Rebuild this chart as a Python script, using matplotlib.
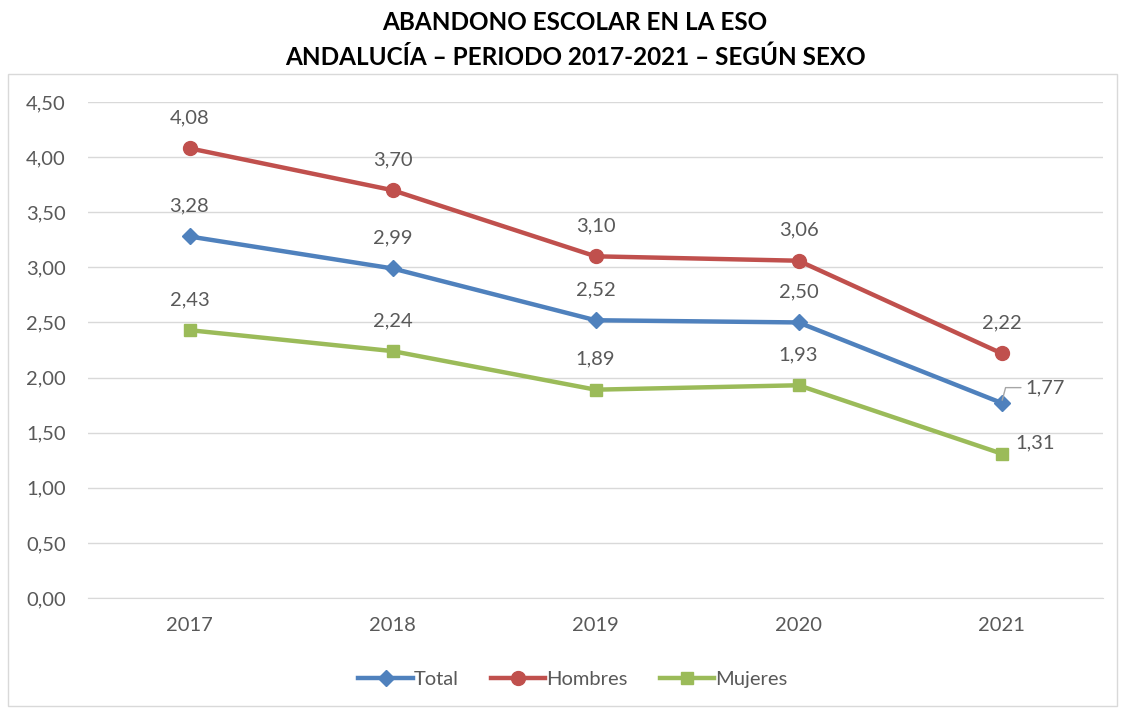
import matplotlib.pyplot as plt
import matplotlib.patches as patches

plt.rcParams['font.family'] = ['Lato', 'DejaVu Sans']

anios = ['2017', '2018', '2019', '2020', '2021']
total = [3.28, 2.99, 2.52, 2.50, 1.77]
hombres = [4.08, 3.70, 3.10, 3.06, 2.22]
mujeres = [2.43, 2.24, 1.89, 1.93, 1.31]
yticks = [0, 0.5, 1.0, 1.5, 2.0, 2.5, 3.0, 3.5, 4.0, 4.5]

gris = '#595959'
c_total = '#4F81BD'
c_hombres = '#C0504D'
c_mujeres = '#9BBB59'
fs = 14.5


def coma(v):
    return f'{v:.2f}'.replace('.', ',')


fig = plt.figure(figsize=(11.22, 7.09), dpi=100)
ax = fig.add_axes([88 / 1122, 1 - 598 / 709, (1103 - 88) / 1122, (598 - 102) / 709])

# marco del grafico
fig.patches.append(patches.Rectangle((8 / 1122, 1 - 706 / 709), 1109 / 1122, 632 / 709,
                                     transform=fig.transFigure, fill=False,
                                     edgecolor='#D9D9D9', lw=1))

x = list(range(len(anios)))
ax.plot(x, total, color=c_total, lw=3.2, marker='D', ms=8, label='Total', zorder=3)
ax.plot(x, hombres, color=c_hombres, lw=3.2, marker='o', ms=10, label='Hombres', zorder=3)
ax.plot(x, mujeres, color=c_mujeres, lw=3.2, marker='s', ms=9, label='Mujeres', zorder=3)

# etiquetas de datos
for serie in (total, hombres, mujeres):
    for i, v in enumerate(serie[:-1]):
        ax.annotate(coma(v), (i, v), xytext=(0, 22), textcoords='offset points',
                    ha='center', va='center', fontsize=fs, color=gris)
ax.annotate(coma(hombres[-1]), (4, hombres[-1]), xytext=(0, 22), textcoords='offset points',
            ha='center', va='center', fontsize=fs, color=gris)
ax.annotate(coma(total[-1]), (4, total[-1]), xytext=(17, 11), textcoords='offset points',
            ha='left', va='center', fontsize=fs, color=gris,
            arrowprops=dict(arrowstyle='-', color='#A6A6A6', lw=1,
                            connectionstyle='angle,angleA=0,angleB=75,rad=0',
                            shrinkA=1, shrinkB=2))
ax.annotate(coma(mujeres[-1]), (4, mujeres[-1]), xytext=(10, 8), textcoords='offset points',
            ha='left', va='center', fontsize=fs, color=gris)

ax.set_xlim(-0.5, 4.5)
ax.set_ylim(0, 4.5)
ax.set_xticks(x)
ax.set_xticklabels(anios)
ax.set_yticks(yticks)
ax.set_yticklabels([coma(v) for v in yticks])
ax.tick_params(colors=gris, labelsize=fs, length=0, pad=16)
ax.tick_params(axis='x', pad=14)
ax.grid(axis='y', color='#D9D9D9', lw=1)
ax.set_axisbelow(True)
for s in ['top', 'right', 'left']:
    ax.spines[s].set_visible(False)
ax.spines['bottom'].set_color('#D9D9D9')

fig.text(575 / 1122, 1 - 22 / 709, 'ABANDONO ESCOLAR EN LA ESO', ha='center', va='center',
         fontsize=17.5, fontweight='bold', color='black')
fig.text(575 / 1122, 1 - 57 / 709, 'ANDALUCÍA – PERIODO 2017-2021 – SEGÚN SEXO', ha='center',
         va='center', fontsize=17.5, fontweight='bold', color='black')

leg = fig.legend(loc='center', bbox_to_anchor=(573 / 1122, 1 - 679 / 709), ncol=3, frameon=False,
                 fontsize=fs, handlelength=2.7, columnspacing=1.6, handletextpad=0.05)
for t in leg.get_texts():
    t.set_color(gris)

fig.savefig('out.png', dpi=100)
